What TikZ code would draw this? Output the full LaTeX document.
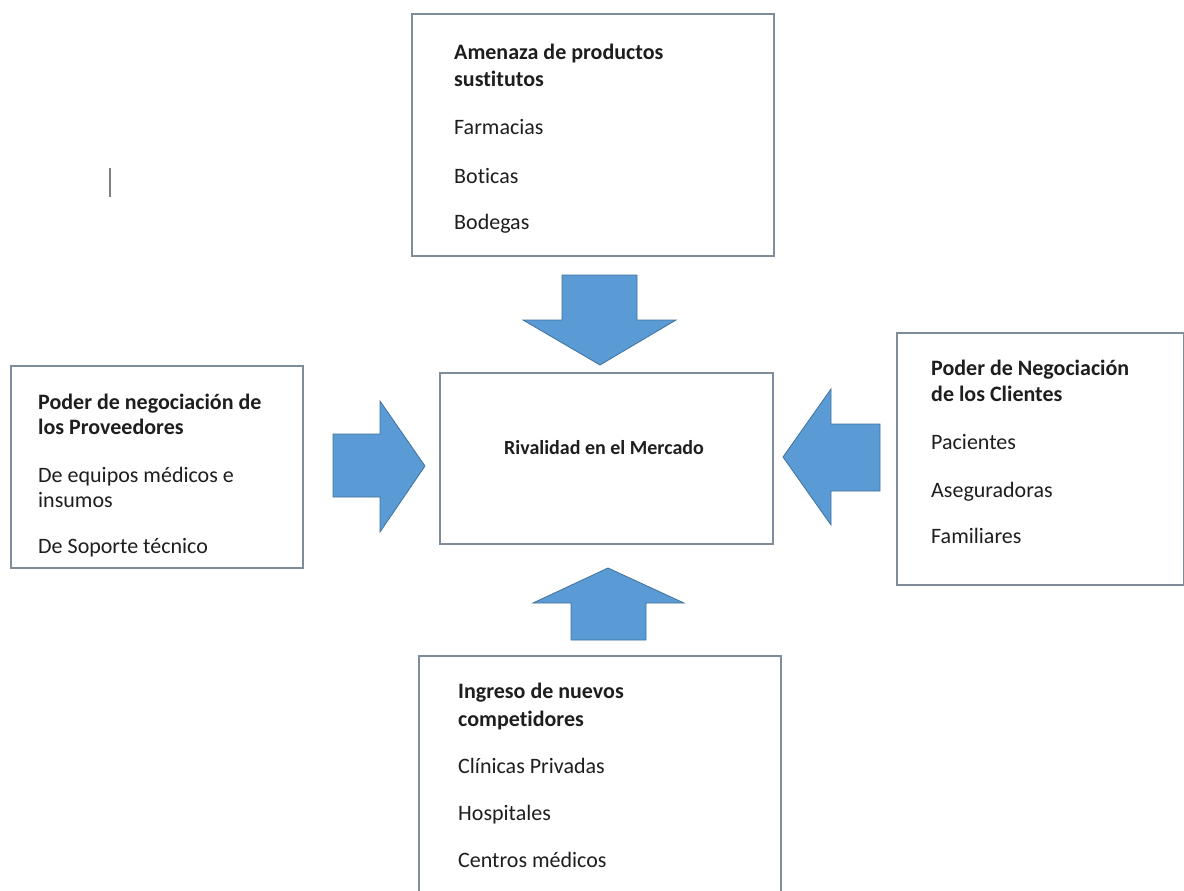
\documentclass[tikz,border=0pt]{standalone}
\usepackage{fontspec}
\setmainfont{Carlito}[Ligatures=NoCommon]
\definecolor{boxline}{HTML}{7F8C9A}
\definecolor{arrowfill}{HTML}{5B9BD5}
\definecolor{arrowline}{HTML}{41719C}
\definecolor{txt}{HTML}{1E1E1E}
\begin{document}
\begin{tikzpicture}[x=1pt,y=-1pt,
  box/.style={draw=boxline,line width=1.6pt,fill=white,anchor=north west,inner sep=0pt},
  line/.style={anchor=base west,inner sep=0pt,text=txt,font=\fontsize{22}{27}\selectfont},
  title/.style={line,font=\fontsize{22}{27}\selectfont\bfseries},
  blockarrow/.style={fill=arrowfill,draw=arrowline,line width=0.8pt,line join=miter}]
\useasboundingbox[fill=white] (0,0) rectangle (1184,891);

% boxes
\node[box,minimum width=362pt,minimum height=242pt] (top) at (411,13) {};
\node[box,minimum width=292pt,minimum height=202pt] (left) at (10,365) {};
\node[box,minimum width=333pt,minimum height=171pt] (center) at (439,372) {};
\node[box,minimum width=287pt,minimum height=252pt] (right) at (896,332) {};
\node[box,minimum width=362pt,minimum height=245pt] (bottom) at (418,655) {};

% top box text
\node[title] (t1) at (454,60) {Amenaza de productos};
\node[title] (t2) at (454,87) {sustitutos};
\node[line] (t3) at (454,135) {Farmacias};
\node[line] (t4) at (454,183) {Boticas};
\node[line] (t5) at (454,229) {Bodegas};

% left box text
\node[title] (l1) at (38,409) {Poder de negociación de};
\node[title] (l2) at (38,434) {los Proveedores};
\node[line] (l3) at (38,482) {De equipos médicos e};
\node[line] (l4) at (38,507) {insumos};
\node[line] (l5) at (38,553) {De Soporte técnico};

% center text
\node[anchor=base,inner sep=0pt,text=txt,font=\fontsize{20}{24}\selectfont\bfseries] (c1) at (604,454) {Rivalidad en el Mercado};

% right box text
\node[title] (r1) at (931,375) {Poder de Negociación};
\node[title] (r2) at (931,401) {de los Clientes};
\node[line] (r3) at (931,449) {Pacientes};
\node[line] (r4) at (931,497) {Aseguradoras};
\node[line] (r5) at (931,543) {Familiares};

% bottom box text
\node[title] (b1) at (458,698) {Ingreso de nuevos};
\node[title] (b2) at (458,726) {competidores};
\node[line] (b3) at (458,773) {Clínicas Privadas};
\node[line] (b4) at (458,820) {Hospitales};
\node[line] (b5) at (458,867) {Centros médicos};

% block arrows
\draw[blockarrow] (562,275) -- (637,275) -- (637,320) -- (676,320) -- (600,365) -- (523,320) -- (562,320) -- cycle;
\draw[blockarrow] (333,434) -- (380,434) -- (380,401) -- (425,466) -- (380,532) -- (380,497) -- (333,497) -- cycle;
\draw[blockarrow] (880,424) -- (831,424) -- (831,389) -- (783,457) -- (831,525) -- (831,491) -- (880,491) -- cycle;
\draw[blockarrow] (571,640) -- (571,603) -- (533,603) -- (608,568) -- (684,603) -- (646,603) -- (646,640) -- cycle;

% text cursor mark
\draw[line width=1.5pt,color=gray] (110,168) -- (110,197);
\end{tikzpicture}
\end{document}
